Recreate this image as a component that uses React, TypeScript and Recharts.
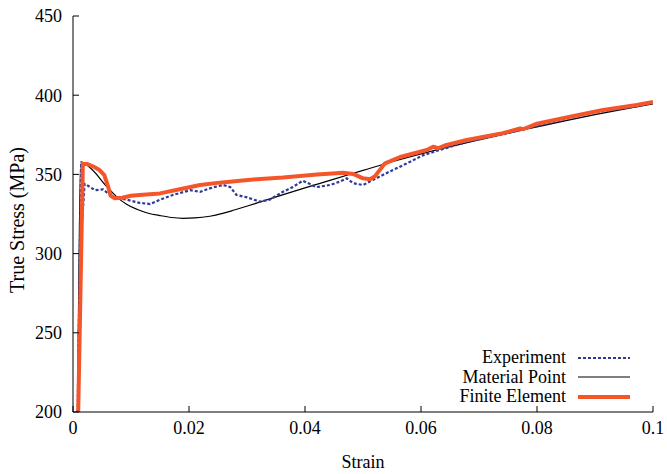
import { LineChart, Line, XAxis, YAxis } from 'recharts'

type Pt = { strain: number; stress: number }

// 실험값 (Experiment)
const experiment: Pt[] = [
  { strain: 0.0008, stress: 200 },
  { strain: 0.0014, stress: 357 },
  { strain: 0.0016, stress: 321 },
  { strain: 0.002, stress: 344 },
  { strain: 0.0024, stress: 343.3 },
  { strain: 0.0038, stress: 340 },
  { strain: 0.0052, stress: 340.5 },
  { strain: 0.0067, stress: 336 },
  { strain: 0.0093, stress: 334 },
  { strain: 0.0115, stress: 332 },
  { strain: 0.0133, stress: 331.3 },
  { strain: 0.015, stress: 334 },
  { strain: 0.0172, stress: 337 },
  { strain: 0.0202, stress: 340 },
  { strain: 0.0219, stress: 339 },
  { strain: 0.0241, stress: 341.8 },
  { strain: 0.0259, stress: 343.3 },
  { strain: 0.0271, stress: 342 },
  { strain: 0.0282, stress: 337 },
  { strain: 0.03, stress: 335.5 },
  { strain: 0.0322, stress: 332.8 },
  { strain: 0.0339, stress: 334 },
  { strain: 0.0362, stress: 339 },
  { strain: 0.0379, stress: 342 },
  { strain: 0.0396, stress: 346 },
  { strain: 0.0405, stress: 344.5 },
  { strain: 0.042, stress: 342 },
  { strain: 0.0443, stress: 343.3 },
  { strain: 0.046, stress: 345.4 },
  { strain: 0.0472, stress: 347.5 },
  { strain: 0.0483, stress: 344.4 },
  { strain: 0.05, stress: 343.3 },
  { strain: 0.0506, stress: 344.4 },
  { strain: 0.0517, stress: 346.5 },
  { strain: 0.0547, stress: 352 },
  { strain: 0.0576, stress: 357 },
  { strain: 0.0603, stress: 362 },
  { strain: 0.0628, stress: 365 },
  { strain: 0.0679, stress: 370.5 },
  { strain: 0.0741, stress: 375.3 },
  { strain: 0.08, stress: 380.5 },
  { strain: 0.0857, stress: 385.5 },
  { strain: 0.0914, stress: 389.8 },
  { strain: 0.0972, stress: 393 },
  { strain: 0.1, stress: 395 },
]

// 재료점 모델 (Material Point)
const materialPoint: Pt[] = [
  { strain: 0.0008, stress: 200 },
  { strain: 0.0013, stress: 358 },
  { strain: 0.003, stress: 354 },
  { strain: 0.0059, stress: 342 },
  { strain: 0.0075, stress: 336 },
  { strain: 0.0093, stress: 331 },
  { strain: 0.011, stress: 328 },
  { strain: 0.013, stress: 325.5 },
  { strain: 0.015, stress: 324 },
  { strain: 0.017, stress: 322.8 },
  { strain: 0.019, stress: 322.3 },
  { strain: 0.021, stress: 322.5 },
  { strain: 0.0236, stress: 323.6 },
  { strain: 0.0258, stress: 325.4 },
  { strain: 0.0278, stress: 327.5 },
  { strain: 0.0305, stress: 330.5 },
  { strain: 0.035, stress: 335.8 },
  { strain: 0.04, stress: 341.5 },
  { strain: 0.045, stress: 347 },
  { strain: 0.05, stress: 352.5 },
  { strain: 0.055, stress: 358 },
  { strain: 0.06, stress: 363 },
  { strain: 0.065, stress: 367.5 },
  { strain: 0.07, stress: 371.8 },
  { strain: 0.075, stress: 376 },
  { strain: 0.08, stress: 380 },
  { strain: 0.085, stress: 384 },
  { strain: 0.09, stress: 387.7 },
  { strain: 0.095, stress: 391.2 },
  { strain: 0.1, stress: 394.5 },
]

// 유한요소 해석 (Finite Element)
const finiteElement: Pt[] = [
  { strain: 0.0009, stress: 200 },
  { strain: 0.0017, stress: 356.5 },
  { strain: 0.0025, stress: 356.5 },
  { strain: 0.0035, stress: 355 },
  { strain: 0.0045, stress: 353 },
  { strain: 0.0054, stress: 349.5 },
  { strain: 0.006, stress: 343 },
  { strain: 0.0065, stress: 336.5 },
  { strain: 0.0072, stress: 335 },
  { strain: 0.0085, stress: 335.3 },
  { strain: 0.01, stress: 336.5 },
  { strain: 0.0115, stress: 337 },
  { strain: 0.015, stress: 338 },
  { strain: 0.0184, stress: 340.6 },
  { strain: 0.0219, stress: 343.3 },
  { strain: 0.0253, stress: 344.8 },
  { strain: 0.0288, stress: 346 },
  { strain: 0.0317, stress: 347 },
  { strain: 0.0362, stress: 348 },
  { strain: 0.0421, stress: 350 },
  { strain: 0.0466, stress: 351 },
  { strain: 0.0483, stress: 350.3 },
  { strain: 0.05, stress: 347.5 },
  { strain: 0.0512, stress: 347 },
  { strain: 0.052, stress: 348.6 },
  { strain: 0.0538, stress: 357 },
  { strain: 0.0564, stress: 361 },
  { strain: 0.061, stress: 365.4 },
  { strain: 0.0621, stress: 367.5 },
  { strain: 0.0629, stress: 366.5 },
  { strain: 0.0644, stress: 368.6 },
  { strain: 0.0679, stress: 371.7 },
  { strain: 0.0741, stress: 376 },
  { strain: 0.0771, stress: 379 },
  { strain: 0.0776, stress: 378.5 },
  { strain: 0.08, stress: 382 },
  { strain: 0.0857, stress: 386.4 },
  { strain: 0.0914, stress: 390.7 },
  { strain: 0.0972, stress: 393.8 },
  { strain: 0.1, stress: 395.7 },
]

const xTicks = [0, 0.02, 0.04, 0.06, 0.08, 0.1]
const yTicks = [200, 250, 300, 350, 400, 450]

const legendItems = [
  { label: 'Experiment', color: '#2e3a9a', width: 2.2, dash: '3 2' },
  { label: 'Material Point', color: '#000000', width: 1.2, dash: undefined },
  { label: 'Finite Element', color: '#f4562a', width: 4, dash: undefined },
]

const FONT = 'Times New Roman, Liberation Serif, DejaVu Serif, serif'
const tickStyle = { fontSize: 18, fontFamily: FONT, fill: '#000' }

function fmtX(v: number) {
  return v === 0 ? '0' : v === 0.1 ? '0.1' : v.toFixed(2)
}

export default function App() {
  return (
    <div style={{ position: 'absolute', left: 0, top: 0, width: 667, height: 474, background: '#fff', fontFamily: FONT }}>
      <LineChart width={667} height={474} margin={{ top: 16, right: 14, bottom: 0, left: 0 }}>
        <XAxis
          xAxisId="b"
          type="number"
          dataKey="strain"
          domain={[0, 0.1]}
          ticks={xTicks}
          tickFormatter={fmtX}
          tick={tickStyle}
          tickSize={-6}
          tickMargin={15}
          height={62}
          stroke="#000"
          allowDataOverflow
        />
        <XAxis
          xAxisId="t"
          orientation="top"
          type="number"
          dataKey="strain"
          domain={[0, 0.1]}
          ticks={xTicks}
          tickFormatter={() => ''}
          tickSize={-6}
          height={0}
          stroke="#000"
        />
        <YAxis
          yAxisId="l"
          type="number"
          domain={[200, 450]}
          ticks={yTicks}
          tick={tickStyle}
          tickSize={-6}
          tickMargin={17}
          width={73}
          stroke="#000"
          allowDataOverflow
        />
        <YAxis
          yAxisId="r"
          orientation="right"
          type="number"
          domain={[200, 450]}
          ticks={yTicks}
          tickFormatter={() => ''}
          tickSize={-6}
          width={0}
          stroke="#000"
        />
        <Line
          xAxisId="b"
          yAxisId="l"
          data={materialPoint}
          dataKey="stress"
          type="monotone"
          stroke="#000"
          strokeWidth={1.2}
          dot={false}
          isAnimationActive={false}
        />
        <Line
          xAxisId="b"
          yAxisId="l"
          data={experiment}
          dataKey="stress"
          type="linear"
          stroke="#2e3a9a"
          strokeWidth={2.2}
          strokeDasharray="3 2"
          dot={false}
          isAnimationActive={false}
        />
        <Line
          xAxisId="b"
          yAxisId="l"
          data={finiteElement}
          dataKey="stress"
          type="linear"
          stroke="#f4562a"
          strokeWidth={4}
          strokeLinejoin="round"
          dot={false}
          isAnimationActive={false}
        />
      </LineChart>

      {/* 축 제목 */}
      <div
        style={{
          position: 'absolute', left: 313, top: 450, width: 100, textAlign: 'center',
          fontFamily: FONT, fontSize: 18, lineHeight: '24px',
        }}
      >
        Strain
      </div>
      <div
        style={{
          position: 'absolute', left: 17, top: 220, width: 200, textAlign: 'center',
          fontFamily: FONT, fontSize: 20, lineHeight: '24px', whiteSpace: 'nowrap',
          transform: 'translate(-50%, -50%) rotate(-90deg)',
        }}
      >
        True Stress (MPa)
      </div>

      {/* 범례 */}
      <div style={{ position: 'absolute', left: 360, top: 348 }}>
        {legendItems.map((it) => (
          <div key={it.label} style={{ display: 'flex', alignItems: 'center', height: 19.5 }}>
            <span
              style={{
                width: 206, textAlign: 'right', fontFamily: FONT, fontSize: 18, lineHeight: '19px',
              }}
            >
              {it.label}
            </span>
            <svg width={66} height={8} style={{ marginLeft: 12 }}>
              <line
                x1={0}
                y1={4}
                x2={52}
                y2={4}
                stroke={it.color}
                strokeWidth={it.width}
                strokeDasharray={it.dash}
              />
            </svg>
          </div>
        ))}
      </div>
    </div>
  )
}
